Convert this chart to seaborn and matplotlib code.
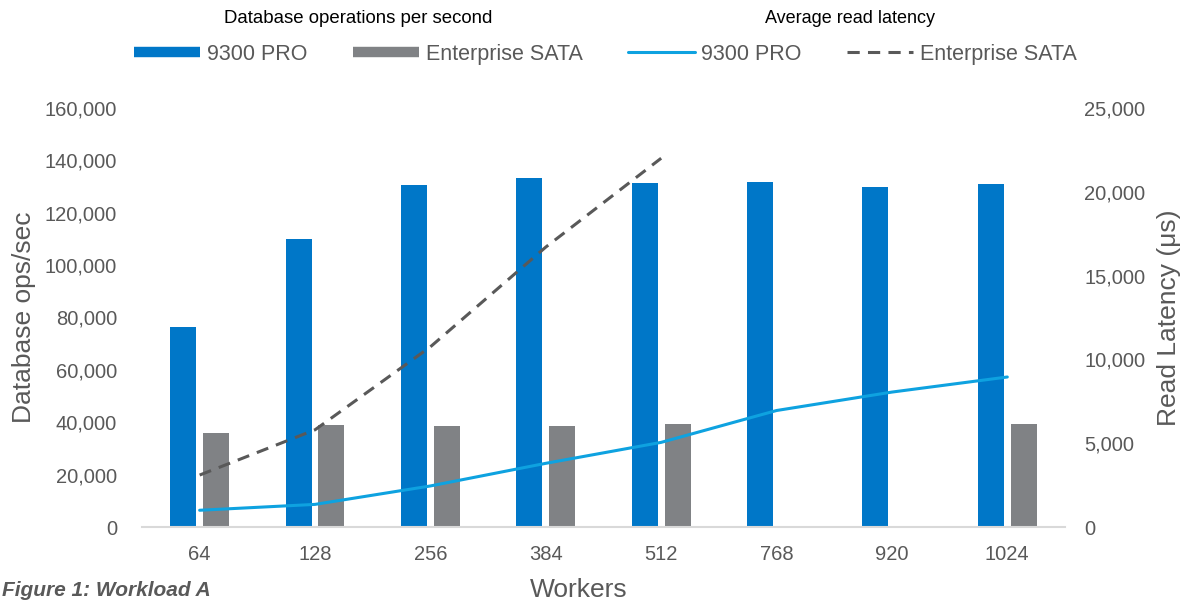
import numpy as np
import pandas as pd
import seaborn as sns
import matplotlib.pyplot as plt
from matplotlib.lines import Line2D
from matplotlib.ticker import FuncFormatter

workers = ['64', '128', '256', '384', '512', '768', '920', '1024']
ops_9300 = [76400, 109800, 130700, 133400, 131300, 131900, 129800, 131100]
ops_sata = [35900, 39100, 38700, 38700, 39300, np.nan, np.nan, 39300]
lat_9300 = [1000, 1350, 2450, 3800, 5050, 6950, 8050, 8950]
lat_sata = [3100, 5800, 10750, 16700, 22000, np.nan, np.nan, np.nan]
drives = ['9300 PRO', 'Enterprise SATA']

blue = '#0077c8'
gray = '#808285'
lightblue = '#0ea2e0'
dark = '#595959'

sns.set_theme(style='white')
plt.rcParams['font.family'] = ['Liberation Sans', 'DejaVu Sans']

df = pd.DataFrame({
    'Workers': workers * 2,
    'ops': ops_9300 + ops_sata,
    'Drive': [drives[0]] * len(workers) + [drives[1]] * len(workers),
})

fig = plt.figure(figsize=(11.89, 6.03), dpi=100)
ax = fig.add_axes([0.1194, 0.126, 0.7763, 0.695])

sns.barplot(data=df, x='Workers', y='ops', hue='Drive', order=workers,
            hue_order=drives, palette=[blue, gray], saturation=1,
            width=0.57, gap=0.21, linewidth=0, legend=False, ax=ax)

# latency lines on the second axis, at the category positions
ax2 = ax.twinx()
pos = np.arange(len(workers))
sns.lineplot(x=pos, y=lat_9300, ax=ax2, color=lightblue, linewidth=2.2)
sns.lineplot(x=pos, y=lat_sata, ax=ax2, color=dark, linewidth=2.2, linestyle='--')
ax2.lines[-1].set_dashes([4, 2.7])

ax.set_xlim(-0.5, len(workers) - 0.5)
ax.set_ylim(0, 160000)
ax.set_yticks(np.arange(0, 160001, 20000))
ax2.set_ylim(0, 25000)
ax2.set_yticks(np.arange(0, 25001, 5000))
fmt = FuncFormatter(lambda v, p: f'{int(v):,}')
ax.yaxis.set_major_formatter(fmt)
ax2.yaxis.set_major_formatter(fmt)

for a in (ax, ax2):
    for s in a.spines.values():
        s.set_visible(False)
    a.tick_params(length=0, labelsize=14.5, labelcolor=dark)
ax.spines['bottom'].set_visible(True)
ax.spines['bottom'].set_color('#d9d9d9')
ax.spines['bottom'].set_linewidth(1.5)
ax.tick_params(axis='y', pad=18)
ax.tick_params(axis='x', pad=13)
ax2.tick_params(axis='y', pad=14)

ax.set_xlabel('Workers', fontsize=19, color=dark, labelpad=10)
ax.xaxis.label.set_x(0.473)
ax.set_ylabel('Database ops/sec', fontsize=19, color=dark, labelpad=6)
ax2.set_ylabel('Read Latency (\u03bcs)', fontsize=19, color=dark, labelpad=8)

handles = [
    Line2D([], [], color=blue, linewidth=7.5, solid_capstyle='butt'),
    Line2D([], [], color=gray, linewidth=7.5, solid_capstyle='butt'),
    Line2D([], [], color=lightblue, linewidth=2.2),
    Line2D([], [], color=dark, linewidth=2.2, linestyle=(0, (4, 2.7))),
]
leg = fig.legend(handles, drives + drives, ncol=4, loc='center',
                 bbox_to_anchor=(0.509, 0.91), frameon=False, fontsize=15.5,
                 handlelength=3.1, handletextpad=0.3, columnspacing=2.1)
for t in leg.get_texts():
    t.set_color(dark)

fig.text(0.3015, 0.97, 'Database operations per second', ha='center', va='center',
         fontsize=13.4, color='black')
fig.text(0.715, 0.97, 'Average read latency', ha='center', va='center',
         fontsize=13, color='black')
fig.text(0.002, 0.012, 'Figure 1: Workload A', ha='left', va='baseline',
         fontsize=15, color=dark, fontweight='bold', fontstyle='italic')

fig.savefig('out.png', dpi=100)
